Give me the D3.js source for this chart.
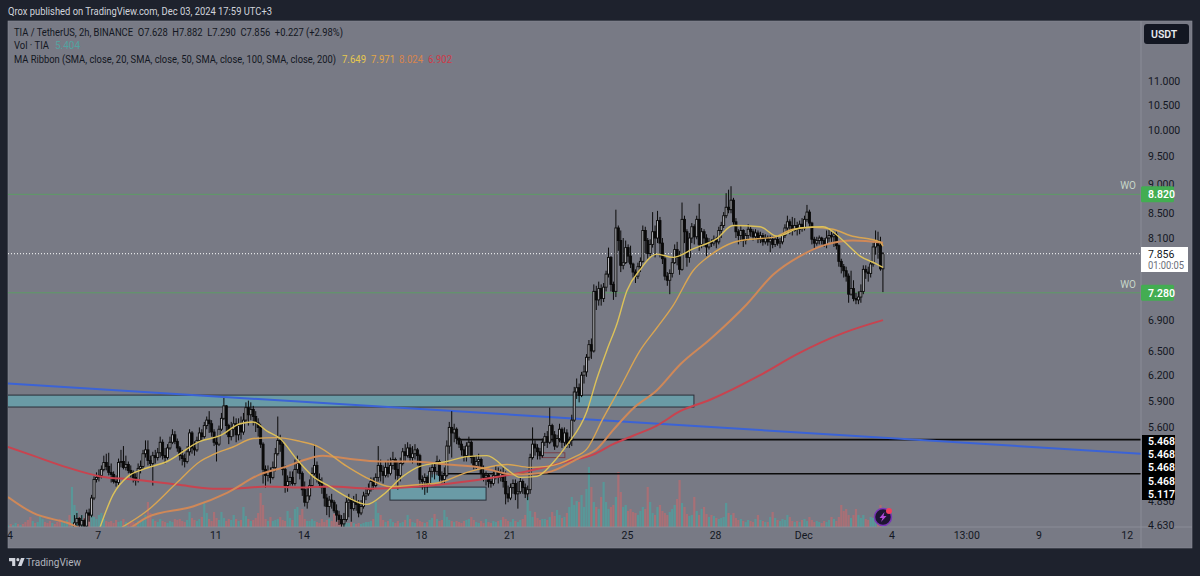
<!DOCTYPE html>
<html>
<head>
<meta charset="utf-8">
<script src="https://cdn.jsdelivr.net/npm/d3@7"></script>
<style>
  html, body { margin: 0; padding: 0; background: #1e222d; overflow: hidden; }
  text { font-family: Roboto, sans-serif; }
</style>
</head>
<body>
<div id="chart"></div>
<script>
// candle values, one row = one day of 2h bars
var firstBar = Date.UTC(2024, 10, 6, 5);
var firstOpen = 4.60;
var closes = [
  4.65,4.69,4.63,4.67,4.62,4.74,4.72,4.88,5.06,5.08,5.10,5.16,
  5.23,5.19,5.13,5.11,5.04,5.03,5.23,5.24,5.18,5.21,5.15,5.13,
  5.08,5.05,5.17,5.19,5.32,5.36,5.25,5.22,5.30,5.28,5.33,5.44,
  5.30,5.28,5.38,5.44,5.52,5.45,5.38,5.30,5.27,5.24,5.34,5.54,
  5.38,5.36,5.46,5.54,5.50,5.62,5.68,5.64,5.55,5.44,5.42,5.58,
  5.70,5.84,5.62,5.50,5.58,5.64,5.52,5.62,5.55,5.68,5.82,5.74,
  5.80,5.72,5.65,5.60,5.42,5.16,5.10,5.14,5.08,5.18,5.32,5.46,
  5.42,5.16,5.00,5.04,5.08,5.02,5.16,5.22,5.12,4.96,4.84,4.90,
  5.00,5.12,5.20,5.06,5.02,4.98,4.88,4.80,4.86,4.84,4.76,4.72,
  4.68,4.64,4.68,4.84,4.86,4.78,4.84,4.82,4.74,4.80,4.90,4.92,
  4.96,5.04,5.00,5.08,5.20,5.14,5.10,5.18,5.12,5.20,5.26,5.16,
  5.10,5.22,5.34,5.30,5.38,5.28,5.32,5.36,5.30,5.06,5.04,5.08,
  5.02,5.14,5.18,5.14,5.24,5.10,5.06,5.10,5.40,5.60,5.54,5.58,
  5.48,5.42,5.36,5.30,5.40,5.44,5.28,5.20,5.24,5.26,5.12,5.08,
  5.10,5.04,5.02,5.10,5.14,5.08,5.12,5.04,4.92,4.88,4.98,5.02,
  4.92,4.94,5.04,4.98,4.92,4.96,5.28,5.42,5.38,5.34,5.30,5.44,
  5.50,5.44,5.62,5.52,5.40,5.48,5.58,5.44,5.54,5.42,5.46,5.68,
  6.00,6.05,5.96,6.20,6.24,6.42,6.58,6.50,7.30,7.18,7.34,7.20,
  7.36,7.55,7.80,7.40,7.30,8.26,8.06,7.68,7.72,7.95,7.82,7.70,
  7.58,7.52,7.66,7.74,8.22,8.06,7.86,8.00,8.20,8.10,8.38,8.02,
  7.78,7.52,7.46,7.56,7.72,7.92,7.80,7.62,8.40,8.20,7.80,8.10,
  8.28,8.12,8.40,8.00,8.20,8.10,7.96,8.04,8.02,8.08,8.04,8.22,
  8.30,8.46,8.60,8.56,8.72,8.36,8.20,8.14,8.22,8.06,8.14,8.24,
  8.20,8.12,8.18,8.08,8.14,8.04,8.10,8.04,8.08,8.00,8.08,8.02,
  8.04,8.14,8.26,8.36,8.30,8.22,8.30,8.24,8.32,8.26,8.40,8.52,
  8.34,8.08,8.02,8.06,8.10,8.06,8.00,8.10,8.14,8.12,8.16,7.98,
  7.74,7.66,7.60,7.52,7.26,7.34,7.20,7.18,7.22,7.30,7.62,7.58,
  7.56,7.70,7.96,8.06,7.98,7.628,7.856
];
var highs = [
  4.72,4.74,4.70,4.72,4.69,4.77,4.78,4.91,5.09,5.13,5.16,5.20,
  5.30,5.32,5.33,5.22,5.14,5.10,5.27,5.36,5.40,5.30,5.24,5.20,
  5.15,5.12,5.22,5.25,5.36,5.46,5.46,5.30,5.34,5.36,5.38,5.50,
  5.47,5.38,5.42,5.50,5.58,5.56,5.48,5.40,5.36,5.32,5.40,5.58,
  5.56,5.45,5.50,5.60,5.58,5.66,5.72,5.78,5.68,5.58,5.50,5.62,
  5.76,5.93,5.85,5.64,5.66,5.72,5.70,5.70,5.72,5.76,5.88,5.90,
  5.88,5.84,5.78,5.70,5.64,5.44,5.20,5.20,5.18,5.24,5.38,5.72,
  5.52,5.46,5.20,5.10,5.14,5.14,5.26,5.30,5.26,5.14,5.04,4.98,
  5.06,5.18,5.42,5.24,5.12,5.08,5.00,4.92,4.90,4.92,4.86,4.82,
  4.76,4.72,4.74,4.88,4.92,4.88,4.90,4.92,4.86,4.86,4.94,4.98,
  5.02,5.08,5.08,5.12,5.40,5.26,5.20,5.24,5.26,5.28,5.34,5.28,
  5.24,5.28,5.38,5.42,5.44,5.42,5.40,5.42,5.38,5.32,5.10,5.12,
  5.10,5.18,5.22,5.22,5.30,5.26,5.14,5.18,5.46,5.66,5.78,5.64,
  5.60,5.50,5.46,5.40,5.44,5.50,5.46,5.30,5.30,5.32,5.28,5.20,
  5.14,5.12,5.08,5.14,5.20,5.18,5.16,5.18,5.14,5.00,5.02,5.06,
  5.06,5.04,5.08,5.06,5.02,5.00,5.32,5.60,5.46,5.42,5.38,5.48,
  5.54,5.56,5.82,5.64,5.56,5.52,5.64,5.60,5.60,5.58,5.50,5.74,
  6.06,6.16,6.10,6.24,6.32,6.46,6.64,6.66,7.40,7.38,7.44,7.40,
  7.42,7.60,7.95,7.82,7.44,8.56,8.30,8.22,8.10,8.06,8.00,7.98,
  7.72,7.62,7.72,7.80,8.30,8.28,8.10,8.08,8.52,8.30,8.54,8.44,
  8.10,7.84,7.58,7.62,7.80,8.00,8.04,7.90,8.68,8.46,8.24,8.18,
  8.34,8.32,8.46,8.66,8.26,8.24,8.16,8.10,8.08,8.14,8.12,8.28,
  8.36,8.52,8.84,8.90,8.96,8.76,8.42,8.24,8.30,8.24,8.18,8.32,
  8.28,8.24,8.24,8.22,8.20,8.18,8.16,8.14,8.14,8.12,8.12,8.14,
  8.10,8.18,8.32,8.46,8.40,8.44,8.42,8.36,8.38,8.42,8.46,8.64,
  8.56,8.36,8.12,8.12,8.14,8.12,8.10,8.22,8.24,8.20,8.20,8.20,
  8.00,7.78,7.70,7.66,7.56,7.60,7.46,7.28,7.30,7.40,7.68,7.68,
  7.66,7.76,8.02,8.22,8.20,8.12,7.882
];
var lows = [
  4.58,4.60,4.58,4.60,4.58,4.60,4.66,4.70,4.86,5.03,5.04,5.07,
  5.14,5.15,5.10,5.03,5.02,4.99,5.00,5.18,5.16,5.15,5.12,5.08,
  5.03,5.00,5.03,5.12,5.16,5.28,5.20,5.18,5.00,5.22,5.25,5.28,
  5.26,5.22,5.26,5.36,5.42,5.42,5.34,5.25,5.20,5.18,5.22,5.30,
  5.32,5.30,5.34,5.44,5.46,5.48,5.58,5.54,5.50,5.40,5.24,5.40,
  5.56,5.68,5.52,5.42,5.46,5.50,5.44,5.46,5.47,5.52,5.66,5.62,
  5.68,5.62,5.55,5.50,5.38,5.02,4.98,5.04,5.02,5.06,5.14,5.30,
  5.34,5.10,4.93,4.94,5.00,5.00,5.00,5.12,5.06,4.90,4.80,4.78,
  4.86,4.98,5.10,5.03,4.98,4.92,4.80,4.72,4.70,4.78,4.74,4.66,
  4.63,4.60,4.61,4.66,4.70,4.66,4.76,4.76,4.70,4.72,4.78,4.86,
  4.90,4.94,4.96,4.98,5.04,5.04,5.02,5.08,5.08,5.10,5.16,5.06,
  4.96,5.04,5.20,5.24,5.28,5.24,5.22,5.26,5.20,5.00,4.96,4.91,
  4.93,5.00,5.08,5.06,5.10,5.04,5.02,5.02,5.08,5.32,5.28,5.44,
  5.42,5.38,5.30,5.24,5.24,5.30,5.22,5.16,5.16,5.18,5.06,5.04,
  5.00,4.98,4.98,5.00,5.06,5.02,5.04,4.98,4.82,4.84,4.86,4.92,
  4.86,4.78,4.92,4.92,4.88,4.86,4.92,5.26,5.30,5.26,5.26,5.28,
  5.40,5.38,5.42,5.44,5.36,5.38,5.44,5.38,5.40,5.38,5.38,5.40,
  5.66,5.92,5.88,5.94,6.10,6.18,6.38,6.40,6.48,7.04,7.10,7.10,
  7.15,7.30,7.50,7.30,7.18,7.22,7.90,7.58,7.62,7.70,7.72,7.64,
  7.50,7.42,7.48,7.58,7.72,7.86,7.78,7.82,7.95,7.80,8.02,7.80,
  7.70,7.46,7.38,7.26,7.50,7.70,7.68,7.54,7.60,8.02,7.66,7.72,
  8.02,8.00,8.08,7.90,7.94,7.96,7.82,7.92,7.96,7.98,7.94,8.00,
  8.10,8.26,8.42,8.50,8.50,8.30,8.10,8.00,8.04,7.96,8.00,8.08,
  8.12,8.06,8.08,8.02,8.02,7.98,8.00,7.98,7.88,7.94,7.96,7.98,
  7.94,8.00,8.10,8.20,8.16,8.14,8.20,8.14,8.16,8.20,8.22,8.36,
  8.28,8.00,7.94,7.98,8.00,8.00,7.96,7.94,8.04,8.04,7.96,7.92,
  7.66,7.56,7.50,7.44,7.14,7.24,7.16,7.12,7.12,7.14,7.26,7.48,
  7.44,7.50,7.66,7.84,7.78,7.60,7.290
];

// volume, same bars but starting earlier (candles of those bars are under the chart)
var earlyVolumes = [2,3,2,4,3,2,3,5,7,10,6,4,5,12,8,5,4,6,4,3,5,8,6,5,7,12,40];
var earlyUp = [1,0,1,1,0,1,0,0,0,0,1,0,1,1,1,0,0,0,1,0,0,0,1,1,1,0,1];
var volumes = [
  22,16,10,12,9,11,14,14,10,8,12,14,
  8,6,5,6,4,7,5,6,8,5,4,6,
  5,4,6,5,7,12,25,14,8,6,5,8,
  6,5,4,6,5,8,7,8,6,5,7,15,
  9,7,6,8,10,25,14,8,6,15,9,7,
  15,9,6,8,7,12,8,6,7,20,11,8,
  6,7,9,14,34,22,8,6,10,6,7,8,
  10,7,6,16,9,7,18,20,12,18,8,6,
  6,8,6,5,4,8,5,7,8,6,13,5,
  13,7,5,4,4,5,4,3,4,3,4,5,
  5,6,8,25,14,12,7,5,6,8,5,4,
  6,4,5,7,12,8,5,4,8,6,5,4,
  5,7,9,13,8,6,7,17,10,7,6,5,
  6,5,4,6,7,8,10,7,5,4,6,4,
  8,5,4,6,5,6,7,10,8,6,5,8,
  6,5,7,8,12,30,16,10,15,9,7,8,
  8,7,10,15,11,17,12,9,10,14,20,30,
  22,26,25,32,20,38,60,40,25,20,18,30,
  45,25,18,20,22,30,55,35,20,22,16,18,
  15,14,12,16,20,18,40,25,14,12,20,22,
  16,14,12,15,18,22,28,47,24,20,13,11,
  12,30,16,12,18,20,13,10,12,11,9,8,
  9,10,24,14,12,14,9,7,8,6,5,7,
  6,5,8,12,7,6,5,5,10,15,9,7,
  6,8,7,12,10,6,5,6,5,7,8,6,
  10,7,5,6,5,4,6,5,7,10,8,6,
  10,22,16,18,12,9,12,18,12,9,12,8,
  7,10,9,8,12,22,15
];

// moving averages, read every so often (day = days after Nov 4)
var ma20Days = [3.08,3.52,4.03,4.54,5.36,6.48,7.16,7.84,8.28,8.76,9.2,9.78,10.32,10.9,11.48,12.16,12.7,13.38,13.96,14.88,15.56,16.24,16.92,17.36,17.94,18.49,18.96,19.64,19.98,20.32,20.66,21,21.44,22.02,22.57,23.25,24.06,24.61,25.53,26.11,26.89,27.67,28.35,28.93,29.5,29.71];
var ma20 = [4.61,4.91,5.09,5.16,5.24,5.45,5.51,5.64,5.66,5.56,5.48,5.26,5.09,4.99,4.89,4.82,4.91,5.09,5.19,5.24,5.29,5.30,5.16,5.08,5.09,5.23,5.41,5.78,6.16,6.51,6.85,7.31,7.61,7.85,7.80,7.93,8.09,8.30,8.28,8.13,8.26,8.28,8.06,7.82,7.70,7.649];
var ma50Days = [3.83,4.68,5.7,6.48,6.92,7.6,8.28,9.1,9.88,10.46,11.48,12.26,12.94,13.96,14.64,15.56,16.24,16.92,17.7,18.28,19.17,19.64,20.19,20.77,21.44,22.02,22.57,23.25,23.83,24.61,25.19,25.97,26.65,27.33,28.01,28.59,29.61,29.71];
var ma50 = [4.61,4.76,5.03,5.24,5.31,5.39,5.48,5.49,5.45,5.40,5.19,5.06,4.99,5.01,5.03,5.13,5.18,5.21,5.18,5.19,5.28,5.37,5.70,6.05,6.50,6.80,7.10,7.60,7.83,8.03,8.08,8.11,8.24,8.27,8.24,8.14,8.04,7.971];
var ma100Days = [-0.05,0.8,1.96,3.08,3.93,4.68,6.24,7.4,8.52,9.44,9.88,10.66,11.48,12.6,13.72,14.88,16,17.13,18.28,19.4,19.98,20.53,21.21,22.02,22.81,23.83,25.08,25.97,26.89,27.8,28.69,29.71];
var ma100 = [4.89,4.74,4.65,4.54,4.58,4.70,4.80,4.93,5.11,5.19,5.24,5.30,5.27,5.24,5.24,5.21,5.18,5.11,5.13,5.28,5.37,5.57,5.81,6.02,6.33,6.65,7.12,7.54,7.82,8.00,8.06,8.024];
var ma200Days = [-0.05,0.8,1.96,3.08,4.2,5.7,6.92,7.6,8.76,9.88,10.9,12.26,13.96,14.98,16.68,17.6,18.96,19.85,20.53,21.21,22.02,22.81,23.83,25.53,26.79,28.35,29.71];
var ma200 = [5.39,5.30,5.18,5.09,5.06,5.01,4.97,4.97,4.99,4.98,4.99,4.97,4.99,5.02,5.09,5.14,5.24,5.31,5.42,5.51,5.62,5.78,5.91,6.20,6.46,6.73,6.902];

// drawings on the chart
var zoneStart = [-1, 12.94, 14.2, 18.11];
var zoneEnd = [23.28, 16.21, 14.64, 18.89];
var zoneTop = [5.964, 4.985, 5.11, 5.33];
var zoneBottom = [5.827, 4.86, 5.02, 5.28];
var levelStart = [15.22, 14.74];
var levelPrice = [5.468, 5.117];
var greenLevels = [8.82, 7.28];
var trendDays = [-0.05, 38.5];
var trendPrices = [6.10, 5.32];
var lastPrice = 7.856;

// axes
var priceTicks = [11, 10.5, 10, 9.5, 9, 8.5, 8.1, 6.9, 6.5, 6.2, 5.9, 5.6, 4.85, 4.63];
var timeTickDays = [0, 3, 7, 10, 14, 17, 21, 24, 27, 30, 32.5417, 35, 38];
var timeLabels = ["4", "7", "11", "14", "18", "21", "25", "28", "Dec", "4", "13:00", "9", "12"];
var blackLabels = ["5.468", "5.468", "5.468", "5.468", "5.117"];

var svgWidth = 1200;
var svgHeight = 576;
var panel = { left: 8, top: 21, right: 1192, bottom: 548 };
var plot = { left: 8, top: 21, right: 1141, bottom: 527 };

var gray = "#787a85";
var inkColor = "#131722";

var svg = d3.select("#chart")
  .append("svg")
  .attr("width", svgWidth)
  .attr("height", svgHeight)
  .style("display", "block");

svg.append("rect")
  .attr("x", panel.left)
  .attr("y", panel.top)
  .attr("width", panel.right - panel.left)
  .attr("height", panel.bottom - panel.top)
  .attr("fill", gray)
  .attr("stroke", "#8b8e98")
  .attr("stroke-width", 0.6);

svg.append("clipPath")
  .attr("id", "plotClip")
  .append("rect")
  .attr("x", plot.left)
  .attr("y", plot.top)
  .attr("width", plot.right - plot.left)
  .attr("height", plot.bottom - plot.top);

// scales
var nov4 = Date.UTC(2024, 10, 4);
var dayMs = 24 * 3600 * 1000;
function dayDate(d) { return new Date(nov4 + d * dayMs); }

var xScale = d3.scaleUtc()
  .domain([dayDate(0), dayDate(38)])
  .range([9.5, 1126.7]);

var yScale = d3.scaleLog()
  .domain([4.63, 11])
  .range([525, 81]);

var volScale = d3.scaleLinear()
  .domain([0, 100])
  .range([plot.bottom, plot.bottom - 100]);

// put the candle values in rows
var opens = closes.map(function(c, i) { return i === 0 ? firstOpen : closes[i - 1]; });
var candles = closes.map(function(c, i) {
  return {
    date: new Date(firstBar + i * 2 * 3600 * 1000),
    open: opens[i],
    high: highs[i],
    low: lows[i],
    close: c
  };
});

var volBars = [];
earlyVolumes.forEach(function(v, i) {
  volBars.push({
    date: new Date(firstBar + (i - earlyVolumes.length) * 2 * 3600 * 1000),
    value: v,
    up: earlyUp[i] === 1
  });
});
volumes.forEach(function(v, i) {
  volBars.push({ date: candles[i].date, value: v, up: candles[i].close >= candles[i].open });
});

var chartGroup = svg.append("g").attr("clip-path", "url(#plotClip)");

// volume
chartGroup.selectAll(".vol")
  .data(volBars)
  .enter()
  .append("rect")
  .attr("class", "vol")
  .attr("x", d => xScale(d.date) - 1.1)
  .attr("y", d => volScale(d.value))
  .attr("width", 2.2)
  .attr("height", d => plot.bottom - volScale(d.value))
  .attr("fill", d => d.up ? "#559a9a" : "#ad6f74")
  .attr("opacity", 0.9);

// zones
var zoneFill = ["#6a9ba6", "#6a9ba6", "#6a9ba6", "none"];
var zoneStroke = ["#2a2e39", "#2a2e39", "none", "#7a3f48"];
zoneStart.forEach(function(s, i) {
  chartGroup.append("rect")
    .attr("x", xScale(dayDate(s)))
    .attr("y", yScale(zoneTop[i]))
    .attr("width", xScale(dayDate(zoneEnd[i])) - xScale(dayDate(s)))
    .attr("height", yScale(zoneBottom[i]) - yScale(zoneTop[i]))
    .attr("fill", zoneFill[i])
    .attr("stroke", zoneStroke[i])
    .attr("stroke-width", 1);
});

// levels
levelPrice.forEach(function(p, i) {
  chartGroup.append("line")
    .attr("x1", xScale(dayDate(levelStart[i])))
    .attr("x2", plot.right)
    .attr("y1", yScale(p))
    .attr("y2", yScale(p))
    .attr("stroke", "#0a0a0a")
    .attr("stroke-width", 1.6);
});

greenLevels.forEach(function(p) {
  chartGroup.append("line")
    .attr("x1", plot.left)
    .attr("x2", plot.right)
    .attr("y1", yScale(p))
    .attr("y2", yScale(p))
    .attr("stroke", "#5d9d66")
    .attr("stroke-width", 1);
});

chartGroup.append("line")
  .attr("x1", plot.left)
  .attr("x2", plot.right)
  .attr("y1", yScale(lastPrice))
  .attr("y2", yScale(lastPrice))
  .attr("stroke", "#ffffff")
  .attr("stroke-width", 1)
  .attr("stroke-dasharray", "1,2");

// trend line
chartGroup.append("line")
  .attr("x1", xScale(dayDate(trendDays[0])))
  .attr("x2", xScale(dayDate(trendDays[1])))
  .attr("y1", yScale(trendPrices[0]))
  .attr("y2", yScale(trendPrices[1]))
  .attr("stroke", "#3b63d6")
  .attr("stroke-width", 2);

// candles
var candleG = chartGroup.selectAll(".candle")
  .data(candles)
  .enter()
  .append("g")
  .attr("class", "candle");

candleG.append("line")
  .attr("x1", d => xScale(d.date))
  .attr("x2", d => xScale(d.date))
  .attr("y1", d => yScale(d.high))
  .attr("y2", d => yScale(d.low))
  .attr("stroke", "#0a0a0a")
  .attr("stroke-width", 1);

candleG.append("rect")
  .attr("x", d => xScale(d.date) - 1)
  .attr("y", d => yScale(Math.max(d.open, d.close)))
  .attr("width", 2)
  .attr("height", d => Math.max(1, Math.abs(yScale(d.open) - yScale(d.close))))
  .attr("fill", d => d.close >= d.open ? "#b9babf" : "#0a0a0a")
  .attr("stroke", "#0a0a0a")
  .attr("stroke-width", 0.9);

// moving averages
var maLine = d3.line()
  .x(d => xScale(dayDate(d[0])))
  .y(d => yScale(d[1]))
  .curve(d3.curveMonotoneX);

function drawMa(days, values, color, width) {
  chartGroup.append("path")
    .attr("d", maLine(days.map(function(d, i) { return [d, values[i]]; })))
    .attr("fill", "none")
    .attr("stroke", color)
    .attr("stroke-width", width);
}
drawMa(ma200Days, ma200, "#c8434f", 2);
drawMa(ma100Days, ma100, "#cf8858", 2);
drawMa(ma50Days, ma50, "#d9a552", 1.4);
drawMa(ma20Days, ma20, "#dcc25a", 1.4);

// icon on the last bars
var icon = svg.append("g").attr("transform", "translate(883,517)");
icon.append("circle").attr("r", 8.5).attr("fill", "#1e1533").attr("stroke", "#7a35b8").attr("stroke-width", 1.5);
icon.append("path").attr("d", "M1.5,-5 L-3.5,1 L-0.5,1 L-2,5 L3.5,-1 L0.5,-1 Z").attr("fill", "#b04ad8");
icon.append("circle").attr("cx", 6).attr("cy", -6).attr("r", 3).attr("fill", "#ef3f5e");

// axis lines
svg.append("line")
  .attr("x1", plot.right).attr("x2", plot.right)
  .attr("y1", panel.top).attr("y2", panel.bottom)
  .attr("stroke", "#8f929c").attr("stroke-width", 0.8);
svg.append("line")
  .attr("x1", panel.left).attr("x2", panel.right)
  .attr("y1", plot.bottom).attr("y2", plot.bottom)
  .attr("stroke", "#8f929c").attr("stroke-width", 0.8);

// price axis
var rightAxis = d3.axisRight(yScale)
  .tickValues(priceTicks)
  .tickFormat(d3.format(".3f"))
  .tickSize(0)
  .tickPadding(7);

var rightG = svg.append("g")
  .attr("transform", `translate(${plot.right}, 0)`)
  .call(rightAxis);
rightG.select(".domain").remove();
rightG.selectAll("text")
  .attr("fill", inkColor)
  .style("font-size", "10.5px");

// time axis
var bottomAxis = d3.axisBottom(xScale)
  .tickValues(timeTickDays.map(dayDate))
  .tickFormat(function(d, i) { return timeLabels[i]; })
  .tickSize(0)
  .tickPadding(5);

var bottomG = svg.append("g")
  .attr("transform", `translate(0, ${plot.bottom})`)
  .call(bottomAxis);
bottomG.select(".domain").remove();
bottomG.selectAll("text")
  .attr("fill", inkColor)
  .style("font-size", "10.5px");

// labels on the right
function priceBadge(y, txt, fill, color) {
  svg.append("rect")
    .attr("x", plot.right).attr("y", y - 8)
    .attr("width", 33).attr("height", 16)
    .attr("rx", 1.5)
    .attr("fill", fill);
  svg.append("text")
    .attr("x", plot.right + 7).attr("y", y + 4)
    .attr("fill", color)
    .style("font-size", "10.5px").style("font-weight", "600")
    .text(txt);
}
greenLevels.forEach(function(p) {
  priceBadge(yScale(p), d3.format(".3f")(p), "#43ad52", "#ffffff");
  svg.append("text")
    .attr("x", 1136).attr("y", yScale(p) - 5)
    .attr("text-anchor", "end")
    .attr("fill", "#c6d6c8")
    .style("font-size", "10px")
    .text("WO");
});

svg.append("rect")
  .attr("x", plot.right + 1).attr("y", 435)
  .attr("width", 33).attr("height", 65)
  .attr("fill", "#000000");
blackLabels.forEach(function(t, i) {
  svg.append("text")
    .attr("x", plot.right + 7).attr("y", 445 + i * 13.2)
    .attr("fill", "#ffffff")
    .style("font-size", "10.5px").style("font-weight", "600")
    .text(t);
});

svg.append("rect")
  .attr("x", plot.right).attr("y", 247)
  .attr("width", 47).attr("height", 25)
  .attr("fill", "#ffffff");
svg.append("text")
  .attr("x", plot.right + 7).attr("y", 258)
  .attr("fill", inkColor)
  .style("font-size", "10.5px")
  .text("7.856");
svg.append("text")
  .attr("x", plot.right + 7).attr("y", 269)
  .attr("fill", "#6a6d78")
  .attr("textLength", 36)
  .attr("lengthAdjust", "spacingAndGlyphs")
  .style("font-size", "10.5px")
  .text("01:00:05");

// currency button
svg.append("rect")
  .attr("x", 1144).attr("y", 24)
  .attr("width", 45).attr("height", 20)
  .attr("rx", 3)
  .attr("fill", "#131722");
svg.append("text")
  .attr("x", 1151).attr("y", 38)
  .attr("fill", "#e8e9ee")
  .style("font-size", "10.5px").style("font-weight", "600")
  .text("USDT");

// header and legend, squeezed to the widths in the picture
function fitted(x, y, len, color, txt) {
  return svg.append("text")
    .attr("x", x).attr("y", y)
    .attr("fill", color)
    .attr("textLength", len)
    .attr("lengthAdjust", "spacingAndGlyphs")
    .style("font-size", "10.5px")
    .style("white-space", "pre")
    .text(txt);
}

fitted(8, 15, 264, "#d1d4dc", "Qrox published on TradingView.com, Dec 03, 2024 17:59 UTC+3");
fitted(14, 36, 329, inkColor, "TIA / TetherUS, 2h, BINANCE  O7.628  H7.882  L7.290  C7.856  +0.227 (+2.98%)");
fitted(14, 49, 35, inkColor, "Vol · TIA");
fitted(55, 49, 25, "#53a3a0", "5.404");
fitted(14, 63, 322, inkColor, "MA Ribbon (SMA, close, 20, SMA, close, 50, SMA, close, 100, SMA, close, 200)");

var ribbonValues = ["7.649", "7.971", "8.024", "6.902"];
var ribbonColors = ["#e6c84f", "#e3a648", "#d9854c", "#cf3a48"];
var ribbonX = [342, 371, 399, 428];
ribbonValues.forEach(function(v, i) {
  fitted(ribbonX[i], 63, 24, ribbonColors[i], v);
});

// logo at the bottom
var logo = svg.append("g").attr("transform", "translate(8,555) scale(0.52)");
logo.append("path")
  .attr("d", "M14 6H2v6h6v9h6V6Zm12 15h-7l6-15h7l-6 15Zm-7-9a3 3 0 1 0 0-6 3 3 0 0 0 0 6Z")
  .attr("fill", "#d1d4dc");
svg.append("text")
  .attr("x", 26).attr("y", 566)
  .attr("fill", "#b2b5be")
  .attr("textLength", 55)
  .attr("lengthAdjust", "spacingAndGlyphs")
  .style("font-size", "11.5px")
  .text("TradingView");
</script>
</body>
</html>
